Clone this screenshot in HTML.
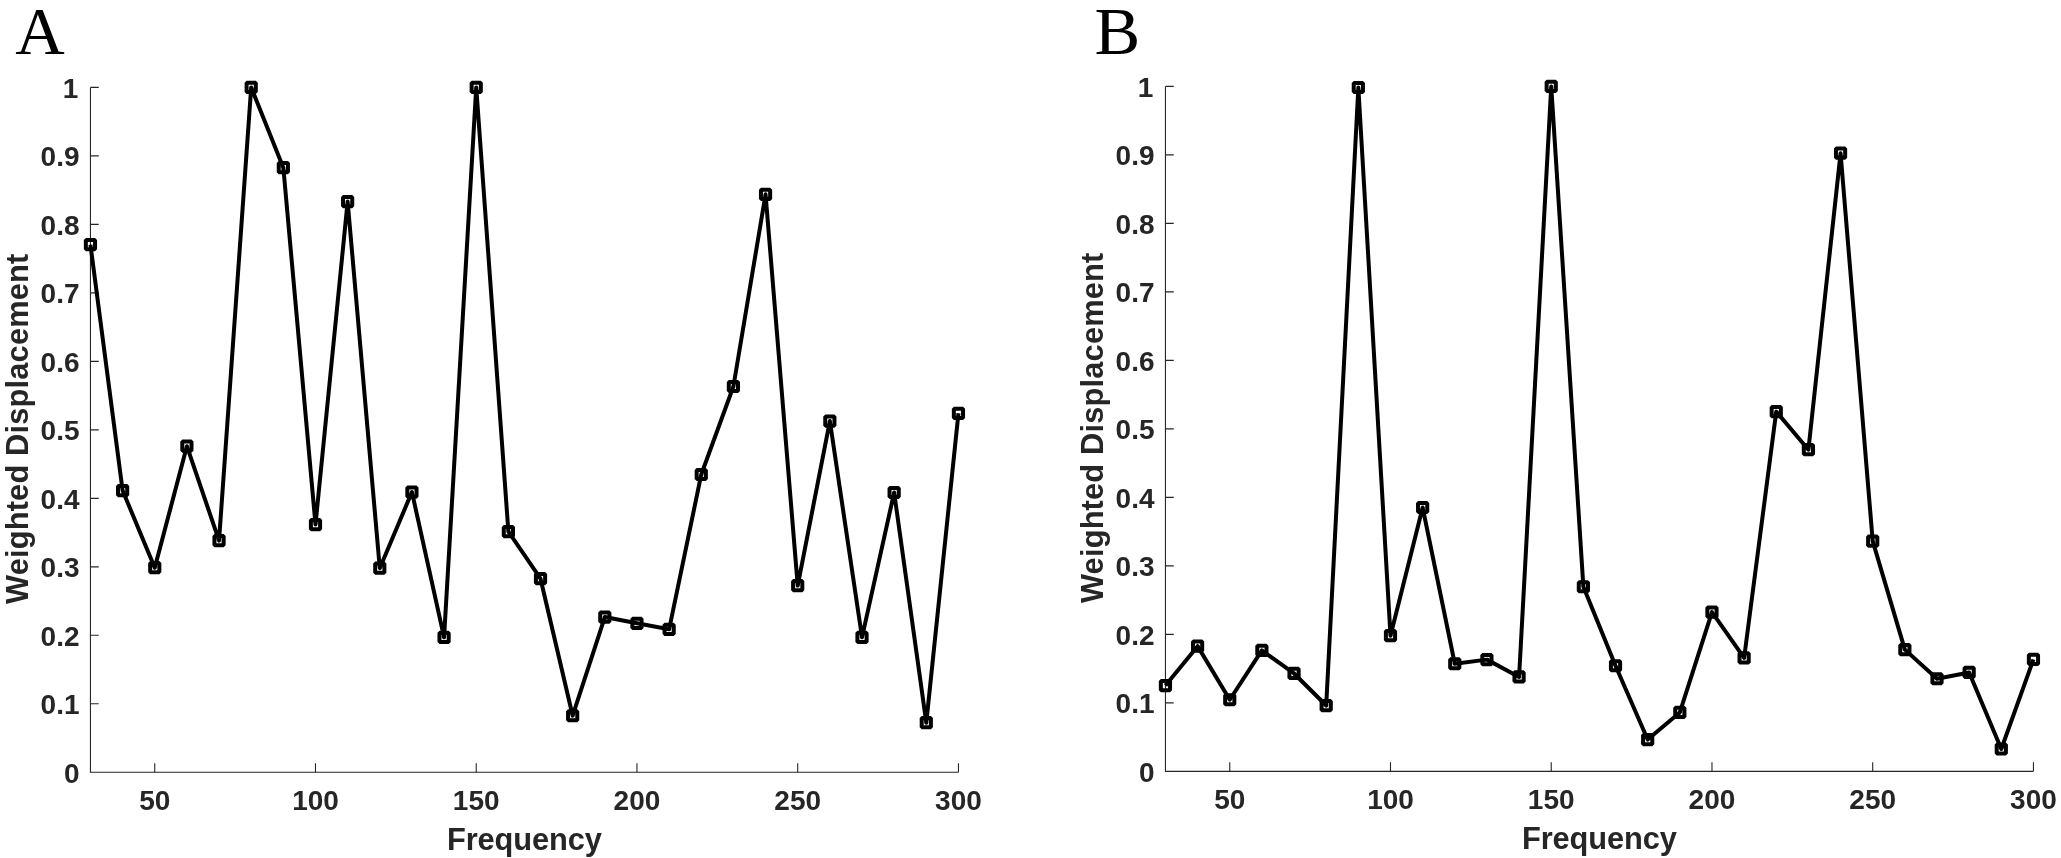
<!DOCTYPE html>
<html lang="en">
<head>
<meta charset="utf-8">
<title>Weighted Displacement vs Frequency</title>
<style>
html,body{margin:0;padding:0;background:#ffffff;}
body{width:2061px;height:858px;overflow:hidden;font-family:"Liberation Sans",sans-serif;}
svg{will-change:transform;}
svg text{white-space:pre;}
</style>
</head>
<body>
<svg width="2061" height="858" viewBox="0 0 2061 858" style="display:block">
<rect width="2061" height="858" fill="#ffffff"/>
<path d="M90.45 87.40V772.30H958.45" fill="none" stroke="#262626" stroke-width="1.1"/>
<path d="M90.45 703.81h8.3M90.45 635.32h8.3M90.45 566.83h8.3M90.45 498.34h8.3M90.45 429.85h8.3M90.45 361.36h8.3M90.45 292.87h8.3M90.45 224.38h8.3M90.45 155.89h8.3M90.45 87.40h8.3M154.75 772.30v-9.0M315.49 772.30v-9.0M476.23 772.30v-9.0M636.97 772.30v-9.0M797.71 772.30v-9.0M958.45 772.30v-9.0" fill="none" stroke="#262626" stroke-width="1.1"/>
<g font-family="'Liberation Sans', sans-serif" font-weight="bold" font-size="28" fill="#262626">
<text x="79.55" y="782.85" text-anchor="end">0</text>
<text x="79.55" y="714.36" text-anchor="end">0.1</text>
<text x="79.55" y="645.87" text-anchor="end">0.2</text>
<text x="79.55" y="577.38" text-anchor="end">0.3</text>
<text x="79.55" y="508.89" text-anchor="end">0.4</text>
<text x="79.55" y="440.40" text-anchor="end">0.5</text>
<text x="79.55" y="371.91" text-anchor="end">0.6</text>
<text x="79.55" y="303.42" text-anchor="end">0.7</text>
<text x="79.55" y="234.93" text-anchor="end">0.8</text>
<text x="79.55" y="166.44" text-anchor="end">0.9</text>
<text x="78.45" y="97.95" text-anchor="end">1</text>
<text x="154.75" y="810.00" text-anchor="middle">50</text>
<text x="315.49" y="810.00" text-anchor="middle">100</text>
<text x="476.23" y="810.00" text-anchor="middle">150</text>
<text x="636.97" y="810.00" text-anchor="middle">200</text>
<text x="797.71" y="810.00" text-anchor="middle">250</text>
<text x="958.45" y="810.00" text-anchor="middle">300</text>
</g>
<g font-family="'Liberation Sans', sans-serif" font-weight="bold" font-size="30.8" fill="#262626">
<text x="524.45" y="849.60" text-anchor="middle" textLength="154.85" lengthAdjust="spacing">Frequency</text>
<text transform="translate(28.20 428.85) rotate(-90)" text-anchor="middle" textLength="350.4" lengthAdjust="spacing">Weighted Displacement</text>
</g>
<path d="M85.85 240.12h9.2v9.2h-9.2zM118.00 485.93h9.2v9.2h-9.2zM150.15 563.12h9.2v9.2h-9.2zM182.29 441.62h9.2v9.2h-9.2zM214.44 536.00h9.2v9.2h-9.2zM246.59 82.80h9.2v9.2h-9.2zM278.74 163.07h9.2v9.2h-9.2zM310.89 519.97h9.2v9.2h-9.2zM343.04 196.97h9.2v9.2h-9.2zM375.18 563.60h9.2v9.2h-9.2zM407.33 487.44h9.2v9.2h-9.2zM439.48 632.71h9.2v9.2h-9.2zM471.63 82.80h9.2v9.2h-9.2zM503.78 526.96h9.2v9.2h-9.2zM535.92 574.08h9.2v9.2h-9.2zM568.07 711.13h9.2v9.2h-9.2zM600.22 612.43h9.2v9.2h-9.2zM632.37 618.73h9.2v9.2h-9.2zM664.52 624.69h9.2v9.2h-9.2zM696.66 469.91h9.2v9.2h-9.2zM728.81 381.90h9.2v9.2h-9.2zM760.96 189.71h9.2v9.2h-9.2zM793.11 580.93h9.2v9.2h-9.2zM825.26 416.48h9.2v9.2h-9.2zM857.41 632.71h9.2v9.2h-9.2zM889.55 487.92h9.2v9.2h-9.2zM921.70 718.11h9.2v9.2h-9.2zM953.85 408.68h9.2v9.2h-9.2z" fill="none" stroke="#000" stroke-width="4.0" stroke-linejoin="bevel"/>
<path d="M90.45 244.72L122.60 490.53L154.75 567.72L186.89 446.22L219.04 540.60L251.19 87.40L283.34 167.67L315.49 524.57L347.64 201.57L379.78 568.20L411.93 492.04L444.08 637.31L476.23 87.40L508.38 531.56L540.52 578.68L572.67 715.73L604.82 617.03L636.97 623.33L669.12 629.29L701.26 474.51L733.41 386.50L765.56 194.31L797.71 585.53L829.86 421.08L862.01 637.31L894.15 492.52L926.30 722.71L958.45 413.28" fill="none" stroke="#000" stroke-width="4.0" stroke-linejoin="round" stroke-linecap="butt"/>
<text x="15.3" y="53.9" font-family="'Liberation Serif', serif" font-size="68.5" fill="#000">A</text>
<path d="M1165.45 86.40V771.35H2033.45" fill="none" stroke="#262626" stroke-width="1.1"/>
<path d="M1165.45 702.86h8.3M1165.45 634.36h8.3M1165.45 565.87h8.3M1165.45 497.37h8.3M1165.45 428.88h8.3M1165.45 360.38h8.3M1165.45 291.88h8.3M1165.45 223.39h8.3M1165.45 154.89h8.3M1165.45 86.40h8.3M1229.75 771.35v-9.0M1390.49 771.35v-9.0M1551.23 771.35v-9.0M1711.97 771.35v-9.0M1872.71 771.35v-9.0M2033.45 771.35v-9.0" fill="none" stroke="#262626" stroke-width="1.1"/>
<g font-family="'Liberation Sans', sans-serif" font-weight="bold" font-size="28" fill="#262626">
<text x="1154.55" y="781.90" text-anchor="end">0</text>
<text x="1154.55" y="713.40" text-anchor="end">0.1</text>
<text x="1154.55" y="644.91" text-anchor="end">0.2</text>
<text x="1154.55" y="576.41" text-anchor="end">0.3</text>
<text x="1154.55" y="507.92" text-anchor="end">0.4</text>
<text x="1154.55" y="439.43" text-anchor="end">0.5</text>
<text x="1154.55" y="370.93" text-anchor="end">0.6</text>
<text x="1154.55" y="302.44" text-anchor="end">0.7</text>
<text x="1154.55" y="233.94" text-anchor="end">0.8</text>
<text x="1154.55" y="165.44" text-anchor="end">0.9</text>
<text x="1153.45" y="96.95" text-anchor="end">1</text>
<text x="1229.75" y="809.05" text-anchor="middle">50</text>
<text x="1390.49" y="809.05" text-anchor="middle">100</text>
<text x="1551.23" y="809.05" text-anchor="middle">150</text>
<text x="1711.97" y="809.05" text-anchor="middle">200</text>
<text x="1872.71" y="809.05" text-anchor="middle">250</text>
<text x="2033.45" y="809.05" text-anchor="middle">300</text>
</g>
<g font-family="'Liberation Sans', sans-serif" font-weight="bold" font-size="30.8" fill="#262626">
<text x="1599.45" y="848.65" text-anchor="middle" textLength="154.85" lengthAdjust="spacing">Frequency</text>
<text transform="translate(1103.20 427.88) rotate(-90)" text-anchor="middle" textLength="350.4" lengthAdjust="spacing">Weighted Displacement</text>
</g>
<path d="M1160.85 680.93h9.2v9.2h-9.2zM1193.00 641.54h9.2v9.2h-9.2zM1225.15 695.17h9.2v9.2h-9.2zM1257.29 645.86h9.2v9.2h-9.2zM1289.44 668.87h9.2v9.2h-9.2zM1321.59 700.93h9.2v9.2h-9.2zM1353.74 82.90h9.2v9.2h-9.2zM1385.89 631.06h9.2v9.2h-9.2zM1418.04 502.91h9.2v9.2h-9.2zM1450.18 659.14h9.2v9.2h-9.2zM1482.33 655.03h9.2v9.2h-9.2zM1514.48 672.36h9.2v9.2h-9.2zM1546.63 81.80h9.2v9.2h-9.2zM1578.78 582.16h9.2v9.2h-9.2zM1610.92 661.13h9.2v9.2h-9.2zM1643.07 734.97h9.2v9.2h-9.2zM1675.22 707.84h9.2v9.2h-9.2zM1707.37 607.43h9.2v9.2h-9.2zM1739.52 653.32h9.2v9.2h-9.2zM1771.66 407.01h9.2v9.2h-9.2zM1803.81 445.10h9.2v9.2h-9.2zM1835.96 148.58h9.2v9.2h-9.2zM1868.11 536.54h9.2v9.2h-9.2zM1900.26 645.03h9.2v9.2h-9.2zM1932.41 674.14h9.2v9.2h-9.2zM1964.55 667.84h9.2v9.2h-9.2zM1996.70 744.42h9.2v9.2h-9.2zM2028.85 654.83h9.2v9.2h-9.2z" fill="none" stroke="#000" stroke-width="4.0" stroke-linejoin="bevel"/>
<path d="M1165.45 685.53L1197.60 646.14L1229.75 699.77L1261.89 650.46L1294.04 673.47L1326.19 705.53L1358.34 87.50L1390.49 635.66L1422.64 507.51L1454.78 663.74L1486.93 659.63L1519.08 676.96L1551.23 86.40L1583.38 586.76L1615.52 665.73L1647.67 739.57L1679.82 712.44L1711.97 612.03L1744.12 657.92L1776.26 411.61L1808.41 449.70L1840.56 153.18L1872.71 541.14L1904.86 649.63L1937.01 678.74L1969.15 672.44L2001.30 749.02L2033.45 659.43" fill="none" stroke="#000" stroke-width="4.0" stroke-linejoin="round" stroke-linecap="butt"/>
<text x="1094.6" y="53.9" font-family="'Liberation Serif', serif" font-size="68.5" fill="#000">B</text>
</svg>
</body>
</html>
